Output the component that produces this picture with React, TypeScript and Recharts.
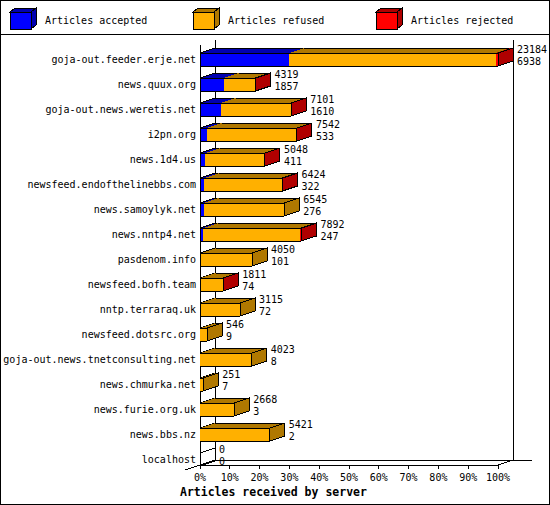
import React from "react";
import { BarChart, Bar, XAxis, YAxis, Legend, LabelList, ReferenceArea } from "recharts";

const servers = [
  "goja-out.feeder.erje.net",
  "news.quux.org",
  "goja-out.news.weretis.net",
  "i2pn.org",
  "news.1d4.us",
  "newsfeed.endofthelinebbs.com",
  "news.samoylyk.net",
  "news.nntp4.net",
  "pasdenom.info",
  "newsfeed.bofh.team",
  "nntp.terraraq.uk",
  "newsfeed.dotsrc.org",
  "goja-out.news.tnetconsulting.net",
  "news.chmurka.net",
  "news.furie.org.uk",
  "news.bbs.nz",
  "localhost",
];
const offered = [23184, 4319, 7101, 7542, 5048, 6424, 6545, 7892, 4050, 1811, 3115, 546, 4023, 251, 2668, 5421, 0];
const accepted = [6938, 1857, 1610, 533, 411, 322, 276, 247, 101, 74, 72, 9, 8, 7, 3, 2, 0];
const rejected = [180, 25, 20, 20, 15, 20, 0, 90, 0, 10, 0, 0, 0, 0, 0, 0, 0];
const pctTicks = [0, 10, 20, 30, 40, 50, 60, 70, 80, 90, 100];

const MAX = Math.max(...offered);

const rows = servers.map((name, i) => ({
  name,
  offered: offered[i],
  accepted: accepted[i],
  rejected: rejected[i],
  refused: offered[i] - accepted[i] - rejected[i],
}));

const SERIES = [
  { key: "accepted", name: "Articles accepted", front: "#0000ff", dark: "#0000b0" },
  { key: "refused", name: "Articles refused", front: "#ffb000", dark: "#b07800" },
  { key: "rejected", name: "Articles rejected", front: "#ff0000", dark: "#b00000" },
];

const DX = 15;
const DY = 5;
const FONT = "'DejaVu Sans Mono', monospace";
const CE = "crispEdges";

function sideColor(p: any) {
  if (!p) return "none";
  if (p.rejected > 0) return SERIES[2].dark;
  if (p.refused > 0) return SERIES[1].dark;
  if (p.accepted > 0) return SERIES[0].dark;
  return "none";
}

function Segment(props: any) {
  const { x = 0, y = 0, width = 0, height = 0, payload, front, dark, first, last } = props;
  const w = Math.max(0, width);
  const b = y + height;
  const xe = x + w;
  return (
    <g>
      {w > 0 && (
        <>
          <rect x={x} y={y} width={w} height={height} fill={front} shapeRendering={CE} />
          <polygon
            points={`${x},${y} ${xe},${y} ${xe + DX},${y - DY} ${x + DX},${y - DY}`}
            fill={dark}
            shapeRendering={CE}
          />
          <line x1={x} x2={xe} y1={y} y2={y} stroke="#000" shapeRendering={CE} />
          <line x1={x} x2={xe} y1={b} y2={b} stroke="#000" shapeRendering={CE} />
          <line x1={x + DX} x2={xe + DX} y1={y - DY} y2={y - DY} stroke="#000" shapeRendering={CE} />
        </>
      )}
      {first && (
        <>
          <line x1={x} x2={x} y1={y} y2={b} stroke="#000" shapeRendering={CE} />
          <line x1={x} x2={x + DX} y1={y} y2={y - DY} stroke="#000" shapeRendering={CE} />
        </>
      )}
      {last && (
        <polygon
          points={`${xe},${y} ${xe + DX},${y - DY} ${xe + DX},${b - DY} ${xe},${b}`}
          fill={sideColor(payload)}
          stroke="#000"
          shapeRendering={CE}
        />
      )}
    </g>
  );
}

function Frame(props: any) {
  const { x = 0, y = 0, width = 0, height = 0 } = props;
  const fTop = y - 2;
  const fBot = y + height - 7;
  const bTop = fTop - DY;
  const bBot = fBot - DY;
  const r = x + width;
  const ln = (x1: number, y1: number, x2: number, y2: number, k: string) => (
    <line key={k} x1={x1} y1={y1} x2={x2} y2={y2} stroke="#000" shapeRendering={CE} />
  );
  return (
    <g>
      {ln(x + DX, bTop, x + DX, bBot, "bl")}
      {ln(r + DX, bTop, r + DX, bBot, "br")}
      {ln(x + DX, bBot, r + DX + 19, bBot, "bb")}
      {ln(x, fTop, x, fBot, "fl")}
      {ln(x, fBot, r, fBot, "fb")}
      {ln(r, fBot, r + DX, bBot, "rd")}
      {ln(x - DX, fBot + DY, x + DX, bBot, "ld")}
    </g>
  );
}

function ServerTick({ x, y, payload }: any) {
  return (
    <text x={x} y={y} dy={3.5} textAnchor="end" fontFamily={FONT} fontSize={10} fill="#000">
      {payload.value}
    </text>
  );
}

function PctTick({ x, y, payload }: any) {
  return (
    <g>
      <line x1={x} x2={x} y1={y - 7} y2={y - 3} stroke="#000" shapeRendering={CE} />
      <text x={x} y={y + 9} textAnchor="middle" fontFamily={FONT} fontSize={10} fill="#000">
        {`${Math.round((payload.value / MAX) * 100)}%`}
      </text>
    </g>
  );
}

function LegendContent({ payload }: any) {
  const items = payload ?? [];
  return (
    <div style={{ width: 550, height: 34, borderBottom: "1px solid #000" }}>
      <svg width={550} height={34} style={{ display: "block" }}>
        {items.map((entry: any, i: number) => {
          const s = SERIES.find((t) => t.name === entry.value) ?? SERIES[i];
          const bx = 10 + 183 * i;
          return (
            <g key={s.key}>
              <rect x={bx} y={12} width={21} height={17} fill={s.front} stroke="#000" shapeRendering={CE} />
              <polygon
                points={`${bx},12 ${bx + 21},12 ${bx + 26},8 ${bx + 5},8`}
                fill={s.dark}
                stroke="#000"
                shapeRendering={CE}
              />
              <polygon
                points={`${bx + 21},12 ${bx + 26},8 ${bx + 26},25 ${bx + 21},29`}
                fill={s.dark}
                stroke="#000"
                shapeRendering={CE}
              />
              <text x={bx + 35} y={24} fontFamily={FONT} fontSize={10} fill="#000">
                {s.name}
              </text>
            </g>
          );
        })}
      </svg>
    </div>
  );
}

const numLabel = (dy: number) => (p: any) => {
  const vb = p.viewBox ?? p;
  return (
    <text x={vb.x + vb.width + 19} y={vb.y + dy} fontFamily={FONT} fontSize={10} fill="#000">
      {p.value}
    </text>
  );
};

export default function App() {
  return (
    <div style={{ position: "absolute", left: 0, top: 0, width: 550, height: 505, background: "#fff" }}>
      <BarChart
        layout="vertical"
        width={550}
        height={505}
        data={rows}
        barSize={13}
        margin={{ top: 12, right: 52, bottom: 0, left: 0 }}
      >
        <Legend verticalAlign="top" content={<LegendContent />} wrapperStyle={{ top: 0, left: 0, width: 550 }} />
        <XAxis
          type="number"
          domain={[0, MAX]}
          ticks={pctTicks.map((p) => (p * MAX) / 100)}
          axisLine={false}
          tickLine={false}
          tickSize={0}
          tickMargin={0}
          height={33}
          tick={<PctTick />}
          interval={0}
          label={(p: any) => {
            const vb = p.viewBox ?? {};
            return (
              <text x={vb.x - 20} y={vb.y + 24} fontFamily={FONT} fontSize={11.5} fontWeight="bold" fill="#000">
                Articles received by server
              </text>
            );
          }}
        />
        <YAxis
          type="category"
          dataKey="name"
          width={200}
          axisLine={false}
          tickLine={false}
          tickSize={0}
          tickMargin={4}
          interval={0}
          tick={<ServerTick />}
        />
        <ReferenceArea x1={0} x2={MAX} fill="none" stroke="none" shape={(p: any) => <Frame {...p} />} ifOverflow="visible" />
        {SERIES.map((s, i) => (
          <Bar
            key={s.key}
            dataKey={s.key}
            name={s.name}
            stackId="a"
            fill={s.front}
            isAnimationActive={false}
            shape={(p: any) => (
              <Segment {...p} front={s.front} dark={s.dark} first={i === 0} last={i === SERIES.length - 1} />
            )}
          >
            {i === SERIES.length - 1 && <LabelList dataKey="offered" content={numLabel(0)} />}
            {i === SERIES.length - 1 && <LabelList dataKey="accepted" content={numLabel(11.5)} />}
          </Bar>
        ))}
      </BarChart>
      <div
        style={{
          position: "absolute",
          left: 0,
          top: 0,
          width: 550,
          height: 505,
          border: "1px solid #000",
          boxSizing: "border-box",
          pointerEvents: "none",
        }}
      />
    </div>
  );
}
